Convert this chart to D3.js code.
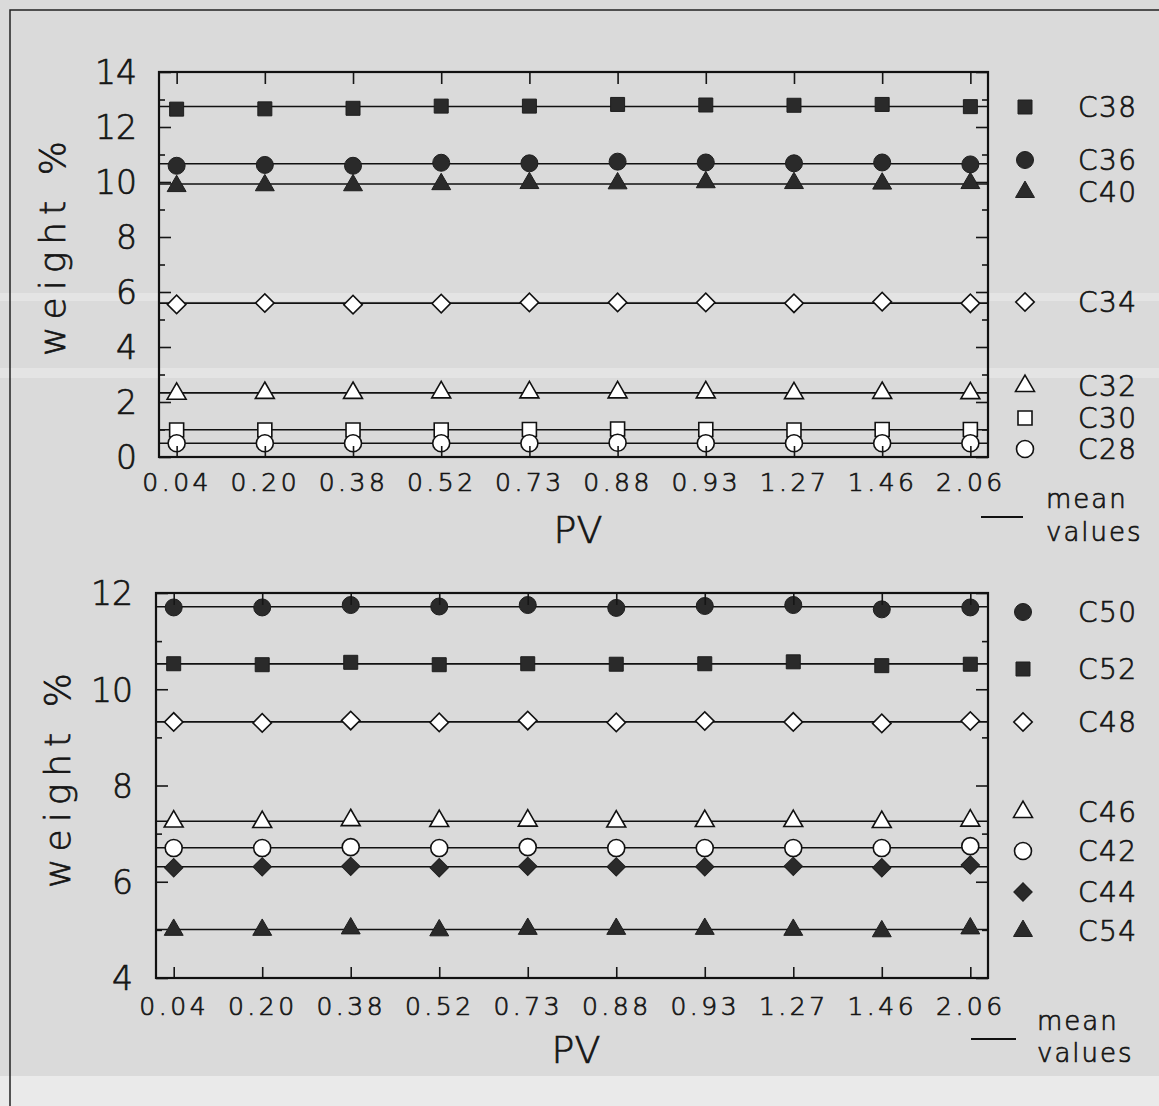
<!DOCTYPE html>
<html><head><meta charset="utf-8">
<script src="https://cdn.jsdelivr.net/npm/d3@7"></script>
<style>
html,body{margin:0;padding:0;background:#dcdcdc;}
svg{display:block;}
text{font-family:"DejaVu Sans",sans-serif;font-weight:200;fill:#151515;stroke:#151515;stroke-width:0.7px;}
</style></head><body>
<svg id="c" width="1159" height="1106"></svg>
<script>
// ---------- DATA ----------
const pvLabels = ["0.04","0.20","0.38","0.52","0.73","0.88","0.93","1.27","1.46","2.06"];

// upper panel (weight %)
const C38 = [12.65, 12.66, 12.68, 12.76, 12.76, 12.82, 12.80, 12.79, 12.82, 12.74];
const C36 = [10.59, 10.62, 10.59, 10.70, 10.68, 10.74, 10.71, 10.68, 10.71, 10.64];
const C40 = [9.85, 9.88, 9.88, 9.92, 9.96, 9.95, 9.99, 9.96, 9.94, 9.96];
const C34 = [5.55, 5.60, 5.54, 5.58, 5.62, 5.62, 5.62, 5.59, 5.65, 5.59];
const C32 = [2.30, 2.33, 2.33, 2.35, 2.35, 2.35, 2.35, 2.32, 2.33, 2.32];
const C30 = [0.98, 0.98, 0.98, 0.98, 1.00, 1.02, 1.00, 0.98, 1.00, 1.00];
const C28 = [0.50, 0.50, 0.50, 0.50, 0.50, 0.52, 0.50, 0.50, 0.50, 0.50];

// lower panel (weight %)
const C50 = [11.70, 11.70, 11.75, 11.72, 11.75, 11.69, 11.73, 11.75, 11.66, 11.70];
const C52 = [10.53, 10.51, 10.56, 10.51, 10.53, 10.52, 10.53, 10.57, 10.49, 10.52];
const C48 = [9.32, 9.30, 9.35, 9.31, 9.35, 9.31, 9.34, 9.32, 9.29, 9.34];
const C46 = [7.25, 7.24, 7.28, 7.26, 7.27, 7.25, 7.26, 7.26, 7.24, 7.27];
const C42 = [6.70, 6.70, 6.72, 6.70, 6.72, 6.70, 6.70, 6.70, 6.70, 6.74];
const C44 = [6.29, 6.31, 6.32, 6.29, 6.32, 6.31, 6.31, 6.32, 6.29, 6.35];
const C54 = [5.00, 5.00, 5.03, 4.99, 5.02, 5.02, 5.02, 5.00, 4.97, 5.03];

const topYTickLabels = ["0","2","4","6","8","10","12","14"];
const bottomYTickLabels = ["4","6","8","10","12"];
const yAxisTitle = "weight %";
const xAxisTitle = "PV";
const meanLegend = ["mean", "values"];

// ---------- STYLE / LAYOUT ----------
const W = 1159, H = 1106;
const svg = d3.select("#c");

svg.append("rect").attr("width", W).attr("height", H).attr("fill", "#dadada");
svg.append("rect").attr("x", 0).attr("y", 293).attr("width", W).attr("height", 8).attr("fill", "#e4e4e4");
svg.append("rect").attr("x", 0).attr("y", 368).attr("width", W).attr("height", 10).attr("fill", "#e4e4e4");
svg.append("rect").attr("x", 0).attr("y", 1076).attr("width", W).attr("height", 30).attr("fill", "#eaeaea");
svg.append("path").attr("d", "M10,1106V10H1159").attr("fill", "none").attr("stroke", "#222").attr("stroke-width", 1.5);

const shapes = {
  square: d3.symbol(d3.symbolSquare, 196)(),
  circle: d3.symbol(d3.symbolCircle, 227)(),
  triangle: d3.symbol(d3.symbolTriangle, 155)(),
  diamond: d3.symbol(d3.symbolSquare, 170)()
};
function markerPath(sel, shape) {
  sel.attr("d", shapes[shape]);
  if (shape === "diamond") sel.attr("transform", function () { return d3.select(this).attr("transform") + " rotate(45)"; });
}

const panels = [
  {
    box: {left: 159, right: 988, top: 72, bottom: 457},
    domain: [0, 14], labels: topYTickLabels, minor: d3.range(0, 15),
    ytickRight: 137, ytitleX: 65, ytitleY: 245,
    xlabBase: 491, pvX: 578, pvBase: 543,
    legX: 1025, legTextX: 1078,
    meanLine: [981, 1023, 517], meanText: [1046, 508, 541],
    series: [
      {name: "C38", values: C38, shape: "square", filled: true, ly: 107},
      {name: "C36", values: C36, shape: "circle", filled: true, ly: 160},
      {name: "C40", values: C40, shape: "triangle", filled: true, ly: 192},
      {name: "C34", values: C34, shape: "diamond", filled: false, ly: 302},
      {name: "C32", values: C32, shape: "triangle", filled: false, ly: 386},
      {name: "C30", values: C30, shape: "square", filled: false, ly: 418},
      {name: "C28", values: C28, shape: "circle", filled: false, ly: 449}
    ]
  },
  {
    box: {left: 156, right: 988, top: 593, bottom: 978},
    domain: [4, 12], labels: bottomYTickLabels, minor: d3.range(4, 13),
    ytickRight: 133, ytitleX: 70, ytitleY: 777,
    xlabBase: 1015, pvX: 576, pvBase: 1063,
    legX: 1023, legTextX: 1078,
    meanLine: [971, 1016, 1039], meanText: [1037, 1030, 1062],
    series: [
      {name: "C50", values: C50, shape: "circle", filled: true, ly: 612},
      {name: "C52", values: C52, shape: "square", filled: true, ly: 669},
      {name: "C48", values: C48, shape: "diamond", filled: false, ly: 722},
      {name: "C46", values: C46, shape: "triangle", filled: false, ly: 812},
      {name: "C42", values: C42, shape: "circle", filled: false, ly: 851},
      {name: "C44", values: C44, shape: "diamond", filled: true, ly: 892},
      {name: "C54", values: C54, shape: "triangle", filled: true, ly: 931}
    ]
  }
];

function styleMarker(sel, s) {
  sel.attr("fill", s.filled ? "#2a2a2a" : "#ffffff")
     .attr("stroke", s.filled ? "#1e1e1e" : "#111")
     .attr("stroke-width", s.filled ? 1 : 1.6);
}

panels.forEach(p => {
  const b = p.box;
  const g = svg.append("g");
  const x = d3.scalePoint().domain(pvLabels).range([b.left, b.right]).padding(0.2);
  const y = d3.scaleLinear().domain(p.domain).range([b.bottom, b.top]);
  const majorVals = p.labels.map(Number);
  const minorVals = p.minor.filter(v => !majorVals.includes(v));

  // mean lines
  p.series.forEach(s => {
    const m = d3.mean(s.values);
    g.append("line").attr("x1", b.left).attr("x2", b.right).attr("y1", y(m)).attr("y2", y(m))
      .attr("stroke", "#111").attr("stroke-width", 1.6);
  });
  // markers
  p.series.forEach(s => {
    g.selectAll(null).data(s.values).join("path")
      .attr("transform", (d, i) => `translate(${x(pvLabels[i])},${y(d)})`)
      .call(markerPath, s.shape).call(styleMarker, s);
  });

  // axes drawn over the markers (inward ticks)
  const ax = g.append("g");
  const yl = ax.append("g").attr("transform", `translate(${b.left},0)`)
    .call(d3.axisLeft(y).tickValues(majorVals).tickSize(-12).tickSizeOuter(0).tickPadding(b.left - p.ytickRight).tickFormat((d, i) => p.labels[i]));
  ax.append("g").attr("transform", `translate(${b.left},0)`)
    .call(d3.axisLeft(y).tickValues(minorVals).tickSize(-6).tickSizeOuter(0).tickFormat(""));
  ax.append("g").attr("transform", `translate(${b.right},0)`)
    .call(d3.axisRight(y).tickValues(majorVals).tickSize(-12).tickSizeOuter(0).tickFormat(""));
  ax.append("g").attr("transform", `translate(${b.right},0)`)
    .call(d3.axisRight(y).tickValues(minorVals).tickSize(-6).tickSizeOuter(0).tickFormat(""));
  const xb = ax.append("g").attr("transform", `translate(0,${b.bottom})`)
    .call(d3.axisBottom(x).tickSize(-11).tickSizeOuter(0).tickPadding(15));
  ax.append("g").attr("transform", `translate(0,${b.top})`)
    .call(d3.axisTop(x).tickSize(-12).tickSizeOuter(0).tickFormat(""));

  ax.selectAll(".domain").remove();
  ax.selectAll(".tick line").attr("stroke", "#161616").attr("stroke-width", 1.6);
  yl.selectAll("text").attr("font-size", 33).attr("dy", "0.36em").attr("fill", "#151515")
    .style("font-family", '"DejaVu Sans",sans-serif').style("font-weight", 200);
  xb.selectAll("text").attr("font-size", 25).attr("dy", null).attr("y", p.xlabBase - b.bottom)
    .attr("fill", "#151515").style("letter-spacing", "3.5px")
    .style("font-family", '"DejaVu Sans",sans-serif').style("font-weight", 200);

  // frame
  g.append("rect").attr("x", b.left).attr("y", b.top).attr("width", b.right - b.left).attr("height", b.bottom - b.top)
    .attr("fill", "none").attr("stroke", "#111").attr("stroke-width", 2.2);

  // titles
  g.append("text").attr("transform", `translate(${p.ytitleX},${p.ytitleY}) rotate(-90)`)
    .attr("text-anchor", "middle").attr("font-size", 36).style("letter-spacing", "7px").text(yAxisTitle);
  g.append("text").attr("x", p.pvX).attr("y", p.pvBase).attr("text-anchor", "middle")
    .attr("font-size", 38).text(xAxisTitle);

  // legend
  p.series.forEach(s => {
    g.append("path").attr("transform", `translate(${p.legX},${s.ly})`).call(markerPath, s.shape).call(styleMarker, s);
    g.append("text").attr("x", p.legTextX).attr("y", s.ly).attr("dy", "0.36em").attr("font-size", 28)
      .style("letter-spacing", "1.5px").text(s.name);
  });
  g.append("line").attr("x1", p.meanLine[0]).attr("x2", p.meanLine[1]).attr("y1", p.meanLine[2]).attr("y2", p.meanLine[2])
    .attr("stroke", "#111").attr("stroke-width", 2.2);
  g.append("text").attr("x", p.meanText[0]).attr("y", p.meanText[1]).attr("font-size", 26).style("letter-spacing", "2px").text(meanLegend[0]);
  g.append("text").attr("x", p.meanText[0]).attr("y", p.meanText[2]).attr("font-size", 26).style("letter-spacing", "2px").text(meanLegend[1]);
});
</script>
</body></html>
